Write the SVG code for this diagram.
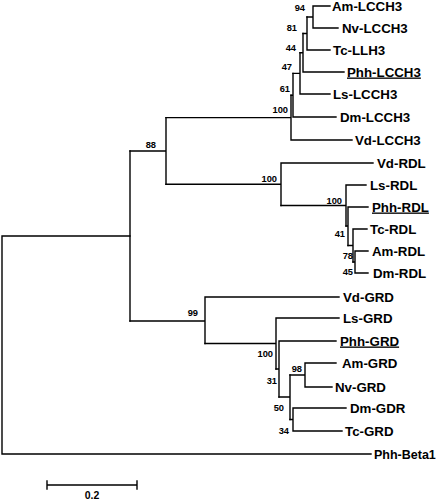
<svg xmlns="http://www.w3.org/2000/svg" width="440" height="500" viewBox="0 0 440 500">
<style>
.br{fill:none;stroke:#000;stroke-width:1.4;stroke-linecap:square}
.tip{font-family:"Liberation Sans",Arial,sans-serif;font-weight:bold;font-size:13.3px;fill:#000}
.bs{font-family:"Liberation Sans",Arial,sans-serif;font-weight:bold;font-size:9.3px;fill:#000;text-anchor:end}
.ul{text-decoration:underline}
</style>
<rect width="440" height="500" fill="#fff"/>
<g id="connectors">
<path class="br" d="M2,236V454M2,236H130M2,454H371"/>
<path class="br" d="M130,151V321"/>
<path class="br" d="M130,151H166M166,117.6V184.3"/>
<path class="br" d="M166,117.6H291M291,95.2V140M291,140H352"/>
<path class="br" d="M291,95.2H293M293,73.4V117M293,117H336"/>
<path class="br" d="M293,73.4H300M300,52.8V94M300,94H330"/>
<path class="br" d="M300,52.8H303M303,33.5V72M303,72H344"/>
<path class="br" d="M303,33.5H307M307,17V50M307,50H330"/>
<path class="br" d="M307,17H313M313,6V28M313,6H330M313,28H338"/>
<path class="br" d="M166,184.3H281M281,163V205.5M281,163H373"/>
<path class="br" d="M281,205.5H346M346,185V226M346,185H366"/>
<path class="br" d="M346,226H348M348,207V245.5M348,207H368"/>
<path class="br" d="M348,245.5H353M353,229V262M353,229H367"/>
<path class="br" d="M353,262H355M355,251V273M355,251H368M355,273H368"/>
<path class="br" d="M130,321H205M205,297V343.5M205,297H339"/>
<path class="br" d="M205,343.5H276M276,318V369M276,318H339"/>
<path class="br" d="M276,369H279M279,341V397M279,341H336"/>
<path class="br" d="M279,397H290M290,375V419.5"/>
<path class="br" d="M290,375H305M305,363V387M305,363H336M305,387H332"/>
<path class="br" d="M290,419.5H293M293,408V431M293,408H346M293,431H342"/>
<path class="br" d="M47,485H137M47,481V489M137,481V489"/>
</g>
<g id="n-am-lcch3"><text class="tip" x="332" y="10.5">Am-LCCH3</text></g>
<g id="n-nv-lcch3"><text class="tip" x="342" y="32.5">Nv-LCCH3</text></g>
<g id="n-tc-llh3"><text class="tip" x="333" y="54.5">Tc-LLH3</text></g>
<g id="n-phh-lcch3"><text class="tip ul" x="347" y="76.5">Phh-LCCH3</text></g>
<g id="n-ls-lcch3"><text class="tip" x="333" y="98.5">Ls-LCCH3</text></g>
<g id="n-dm-lcch3"><text class="tip" x="340" y="121.5">Dm-LCCH3</text></g>
<g id="n-vd-lcch3"><text class="tip" x="355" y="144.5">Vd-LCCH3</text></g>
<g id="n-vd-rdl"><text class="tip" x="377" y="167.5">Vd-RDL</text></g>
<g id="n-ls-rdl"><text class="tip" x="370" y="189.5">Ls-RDL</text></g>
<g id="n-phh-rdl"><text class="tip ul" x="372" y="211.5">Phh-RDL</text></g>
<g id="n-tc-rdl"><text class="tip" x="370" y="233.5">Tc-RDL</text></g>
<g id="n-am-rdl"><text class="tip" x="372" y="255.5">Am-RDL</text></g>
<g id="n-dm-rdl"><text class="tip" x="373" y="277.5">Dm-RDL</text></g>
<g id="n-vd-grd"><text class="tip" x="343" y="301.5">Vd-GRD</text></g>
<g id="n-ls-grd"><text class="tip" x="343" y="322.5">Ls-GRD</text></g>
<g id="n-phh-grd"><text class="tip ul" x="340" y="345.5">Phh-GRD</text></g>
<g id="n-am-grd"><text class="tip" x="342" y="367.5">Am-GRD</text></g>
<g id="n-nv-grd"><text class="tip" x="335" y="391.5">Nv-GRD</text></g>
<g id="n-dm-gdr"><text class="tip" x="350" y="412.5">Dm-GDR</text></g>
<g id="n-tc-grd"><text class="tip" x="345" y="435.5">Tc-GRD</text></g>
<g id="n-phh-beta1"><text class="tip" x="374" y="458.5" style="font-size:12.5px">Phh-Beta1</text></g>
<g id="b94"><text class="bs" x="305" y="11">94</text></g>
<g id="b81"><text class="bs" x="297" y="31">81</text></g>
<g id="b44"><text class="bs" x="296" y="51">44</text></g>
<g id="b47"><text class="bs" x="292" y="70">47</text></g>
<g id="b61"><text class="bs" x="290" y="92">61</text></g>
<g id="b100a"><text class="bs" x="288" y="113">100</text></g>
<g id="b88"><text class="bs" x="156" y="148">88</text></g>
<g id="b100b"><text class="bs" x="277" y="182">100</text></g>
<g id="b100c"><text class="bs" x="342" y="204">100</text></g>
<g id="b41"><text class="bs" x="345" y="237">41</text></g>
<g id="b78"><text class="bs" x="353" y="259">78</text></g>
<g id="b45"><text class="bs" x="353" y="275">45</text></g>
<g id="b99"><text class="bs" x="198" y="316">99</text></g>
<g id="b100d"><text class="bs" x="273" y="357">100</text></g>
<g id="b98"><text class="bs" x="302" y="372">98</text></g>
<g id="b31"><text class="bs" x="277" y="384">31</text></g>
<g id="b50"><text class="bs" x="284" y="411">50</text></g>
<g id="b34"><text class="bs" x="289" y="434">34</text></g>
<g id="scale"><text class="bs" x="92" y="499" style="text-anchor:middle;font-size:10.5px">0.2</text></g>
</svg>
